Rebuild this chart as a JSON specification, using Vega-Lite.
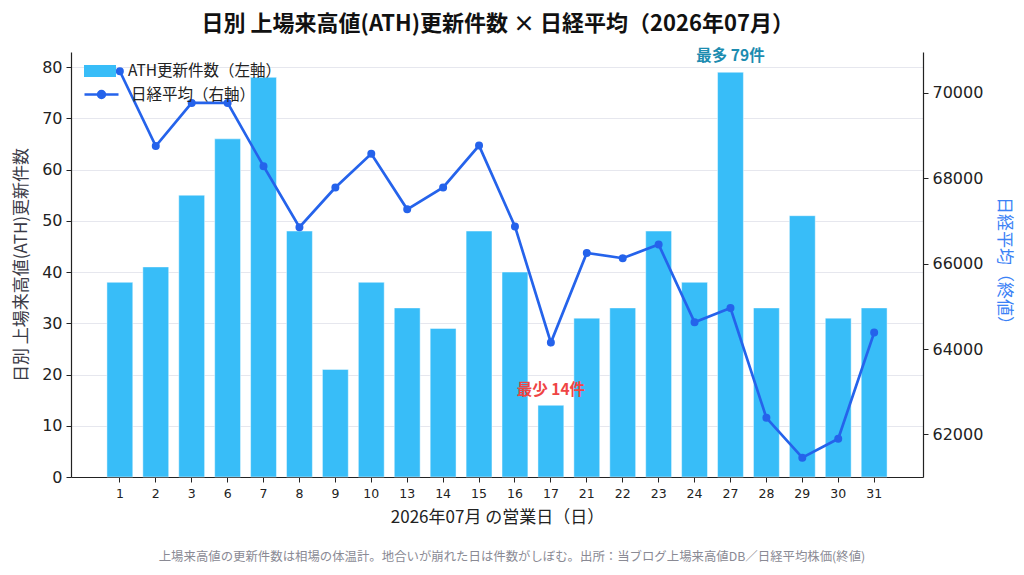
{
  "$schema": "https://vega.github.io/schema/vega-lite/v6.json",
  "padding": {"left": 12, "top": 13, "right": 10, "bottom": 8},
  "title": {
    "text": "日別 上場来高値(ATH)更新件数 × 日経平均（2026年07月）",
    "font": "Noto Sans CJK JP",
    "fontSize": 22,
    "fontWeight": "bold",
    "color": "#111111",
    "anchor": "middle",
    "offset": 13,
    "dx": -15
  },
  "vconcat": [
    {
      "title": {
        "text": "上場来高値の更新件数は相場の体温計。地合いが崩れた日は件数がしぼむ。出所：当ブログ上場来高値DB／日経平均株価(終値)",
        "orient": "bottom",
        "font": "Noto Sans CJK JP",
        "fontSize": 12.4,
        "fontWeight": "normal",
        "color": "#8a8a94",
        "anchor": "middle",
        "offset": 25,
        "dx": 15
      },
      "width": 852,
      "height": 425,
      "data": {
        "values": [
          {"day": "1", "count": 38, "nikkei": 70500},
          {"day": "2", "count": 41, "nikkei": 68750},
          {"day": "3", "count": 55, "nikkei": 69760},
          {"day": "6", "count": 66, "nikkei": 69760},
          {"day": "7", "count": 78, "nikkei": 68280},
          {"day": "8", "count": 48, "nikkei": 66850},
          {"day": "9", "count": 21, "nikkei": 67780},
          {"day": "10", "count": 38, "nikkei": 68570},
          {"day": "13", "count": 33, "nikkei": 67270},
          {"day": "14", "count": 29, "nikkei": 67780},
          {"day": "15", "count": 48, "nikkei": 68760},
          {"day": "16", "count": 40, "nikkei": 66870},
          {"day": "17", "count": 14, "nikkei": 64150},
          {"day": "21", "count": 31, "nikkei": 66250},
          {"day": "22", "count": 33, "nikkei": 66125},
          {"day": "23", "count": 48, "nikkei": 66445},
          {"day": "24", "count": 38, "nikkei": 64625},
          {"day": "27", "count": 79, "nikkei": 64960},
          {"day": "28", "count": 33, "nikkei": 62390},
          {"day": "29", "count": 51, "nikkei": 61457},
          {"day": "30", "count": 31, "nikkei": 61900},
          {"day": "31", "count": 33, "nikkei": 64385}
        ]
      },
      "encoding": {
        "x": {
          "field": "day",
          "type": "ordinal",
          "sort": null,
          "scale": {"paddingInner": 0.28, "paddingOuter": 1.1},
          "axis": {
            "title": "2026年07月 の営業日（日）",
            "labelAngle": 0,
            "labelFont": "DejaVu Sans",
            "labelFontSize": 12.5,
            "labelColor": "#222222",
            "labelPadding": 5,
            "titleFont": "Noto Sans CJK JP",
            "titleFontSize": 17,
            "titleFontWeight": "normal",
            "titleColor": "#222222",
            "titlePadding": 10,
            "tickSize": 5,
            "tickColor": "#222222",
            "domainColor": "#222222",
            "domainWidth": 1.2
          }
        }
      },
      "layer": [
        {
          "layer": [
            {
              "mark": {"type": "bar", "stroke": "#ffffff", "strokeOpacity": 0.45, "strokeWidth": 1},
              "encoding": {
                "y": {
                  "field": "count",
                  "type": "quantitative",
                  "title": "日別 上場来高値(ATH)更新件数",
                  "scale": {"domain": [0, 82.95], "nice": false},
                  "axis": {
                    "values": [0, 10, 20, 30, 40, 50, 60, 70, 80],
                    "labelFont": "DejaVu Sans",
                    "labelFontSize": 16,
                    "labelColor": "#222222",
                    "labelPadding": 4,
                    "titleFont": "Noto Sans CJK JP",
                    "titleFontSize": 17,
                    "titleFontWeight": "normal",
                    "titleColor": "#3a3a46",
                    "titlePadding": 11,
                    "tickSize": 5,
                    "tickColor": "#222222",
                    "domainColor": "#222222",
                    "domainWidth": 1.2,
                    "grid": true,
                    "gridColor": "#e6e7ee",
                    "gridWidth": 1
                  }
                },
                "color": {
                  "datum": "ATH更新件数（左軸）",
                  "scale": {"range": ["#38bdf8"]},
                  "legend": {
                    "orient": "none",
                    "legendX": 13,
                    "legendY": 3,
                    "title": null,
                    "padding": 0,
                    "symbolType": "M-1,-0.375H1V0.375H-1Z",
                    "symbolSize": 1024,
                    "symbolStrokeWidth": 0,
                    "symbolOpacity": 1,
                    "labelOffset": 12,
                    "labelFont": "Noto Sans CJK JP",
                    "labelFontSize": 15.5,
                    "labelColor": "#222222"
                  }
                }
              }
            },
            {
              "transform": [{"filter": "datum.day == '27'"}],
              "mark": {"type": "text", "font": "Noto Sans CJK JP", "fontSize": 15.5, "fontWeight": "bold", "color": "#1c8cb0", "dy": -16},
              "encoding": {
                "y": {"field": "count", "type": "quantitative", "title": "日別 上場来高値(ATH)更新件数"},
                "text": {"value": "最多 79件"}
              }
            },
            {
              "transform": [{"filter": "datum.day == '17'"}],
              "mark": {"type": "text", "font": "Noto Sans CJK JP", "fontSize": 15.5, "fontWeight": "bold", "color": "#ef4444", "dy": -15},
              "encoding": {
                "y": {"field": "count", "type": "quantitative", "title": "日別 上場来高値(ATH)更新件数"},
                "text": {"value": "最少 14件"}
              }
            }
          ]
        },
        {
          "mark": {
            "type": "line",
            "color": "#2563eb",
            "strokeWidth": 2.7,
            "point": {"filled": true, "size": 36, "color": "#2563eb"}
          },
          "encoding": {
            "y": {
              "field": "nikkei",
              "type": "quantitative",
              "title": "日経平均（終値）",
              "scale": {"domain": [61005, 70951], "nice": false, "zero": false},
              "axis": {
                "orient": "right",
                "values": [62000, 64000, 66000, 68000, 70000],
                "format": "d",
                "labelFont": "DejaVu Sans",
                "labelFontSize": 16,
                "labelColor": "#222222",
                "labelPadding": 4,
                "titleFont": "Noto Sans CJK JP",
                "titleFontSize": 17,
                "titleFontWeight": "normal",
                "titleColor": "#3b82f6",
                "titlePadding": 12,
                "tickSize": 5,
                "tickColor": "#222222",
                "domainColor": "#222222",
                "domainWidth": 1.2,
                "grid": false
              }
            },
            "stroke": {
              "datum": "日経平均（右軸）",
              "scale": {"range": ["#2563eb"]},
              "legend": {
                "orient": "none",
                "legendX": 12,
                "legendY": 24,
                "title": null,
                "padding": 0,
                "symbolType": "M-1,0H1M0.2,0A0.2,0.2 0 1 1 -0.2,0A0.2,0.2 0 1 1 0.2,0",
                "symbolSize": 1156,
                "symbolStrokeWidth": 2.7,
                "symbolFillColor": "#2563eb",
                "labelOffset": 11,
                "labelFont": "Noto Sans CJK JP",
                "labelFontSize": 15.5,
                "labelColor": "#222222"
              }
            }
          }
        }
      ],
      "resolve": {"scale": {"y": "independent"}}
    }
  ],
  "config": {
    "view": {"stroke": null},
    "font": "Noto Sans CJK JP"
  }
}
